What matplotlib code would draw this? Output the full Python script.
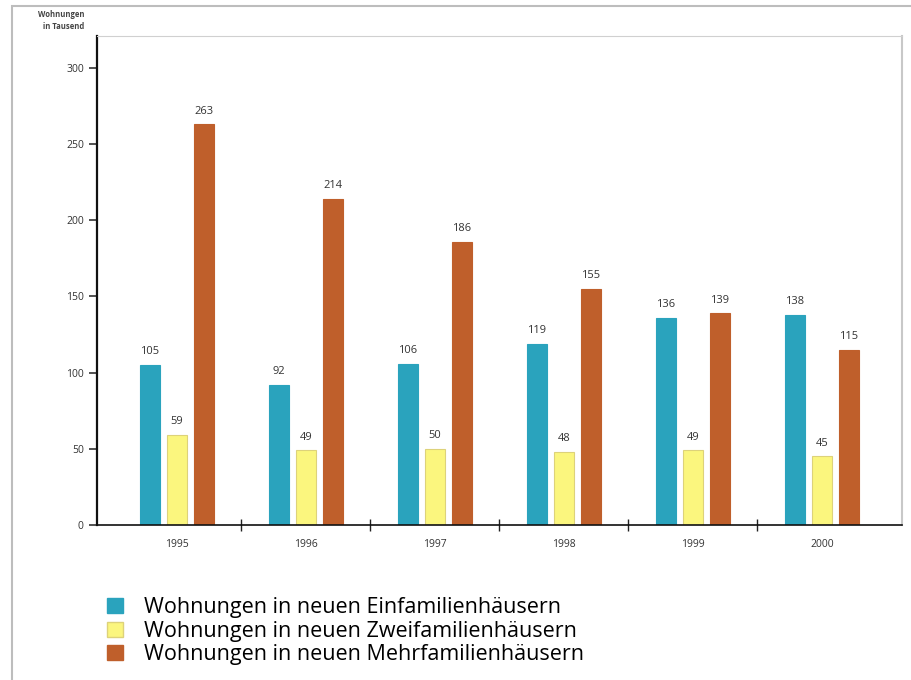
import numpy as np
import matplotlib.pyplot as plt
from matplotlib.patches import Rectangle, Patch

years = ["1995", "1996", "1997", "1998", "1999", "2000"]
einfamilien = [105, 92, 106, 119, 136, 138]
zweifamilien = [59, 49, 50, 48, 49, 45]
mehrfamilien = [263, 214, 186, 155, 139, 115]

labels = ["Wohnungen in neuen Einfamilienhäusern",
          "Wohnungen in neuen Zweifamilienhäusern",
          "Wohnungen in neuen Mehrfamilienhäusern"]
colors = ["#2aa3bd", "#fbf67e", "#bf5f2b"]
edges = ["#2aa3bd", "#ddd27a", "#bf5f2b"]

plt.rcParams['font.family'] = ['Open Sans', 'DejaVu Sans']

fig = plt.figure(figsize=(9.11, 6.8), dpi=100)
ax = fig.add_axes([0.1065, 0.228, 0.8835, 0.719])

x = np.arange(len(years))
w = 0.155
offs = [-0.21, 0.0, 0.21]
series = [einfamilien, zweifamilien, mehrfamilien]
for vals, off, c, e in zip(series, offs, colors, edges):
    bars = ax.bar(x + off, vals, width=w, color=c, edgecolor=e, linewidth=0.8)
    for b, v in zip(bars, vals):
        ax.text(b.get_x() + b.get_width() / 2, v + 5, str(v),
                ha="center", va="bottom", fontsize=8, color="#333333")

ax.set_xlim(-0.62, 5.62)
ax.set_ylim(0, 321)
ax.set_yticks(range(0, 301, 50))
ax.tick_params(axis="y", labelsize=7.5, colors="#333333", length=6, width=1.2, direction="out")
ax.set_xticks(x)
ax.set_xticklabels(years)
ax.tick_params(axis="x", which="major", length=0, labelsize=7.5, colors="#333333", pad=10)
ax.set_xticks(x[:-1] + 0.5, minor=True)
ax.tick_params(axis="x", which="minor", length=8, width=1.0, direction="inout", color="#222222")

ax.spines["left"].set_color("#111111")
ax.spines["left"].set_linewidth(1.6)
ax.spines["bottom"].set_color("#111111")
ax.spines["bottom"].set_linewidth(1.2)
ax.spines["top"].set_color("#d0d0d0")
ax.spines["right"].set_color("#c8c8c8")
ax.spines["right"].set_linewidth(1.5)

fig.text(0.093, 0.985, "Wohnungen\nin Tausend", ha="right", va="top",
         fontsize=5.5, fontweight="bold", color="#444444", linespacing=1.4)

handles = [Patch(facecolor=c, edgecolor=e) for c, e in zip(colors, edges)]
fig.legend(handles, labels, loc="upper left", bbox_to_anchor=(0.118, 0.122),
           frameon=False, fontsize=15.5, handlelength=0.7, handleheight=0.7,
           handletextpad=1.0, labelspacing=0.12, borderaxespad=0, borderpad=0)

fig.patches.append(Rectangle((0.013, -0.01), 1.0, 1.001, transform=fig.transFigure,
                             fill=False, edgecolor="#bdbdbd", linewidth=1.5))

fig.savefig("out.png", dpi=100)
